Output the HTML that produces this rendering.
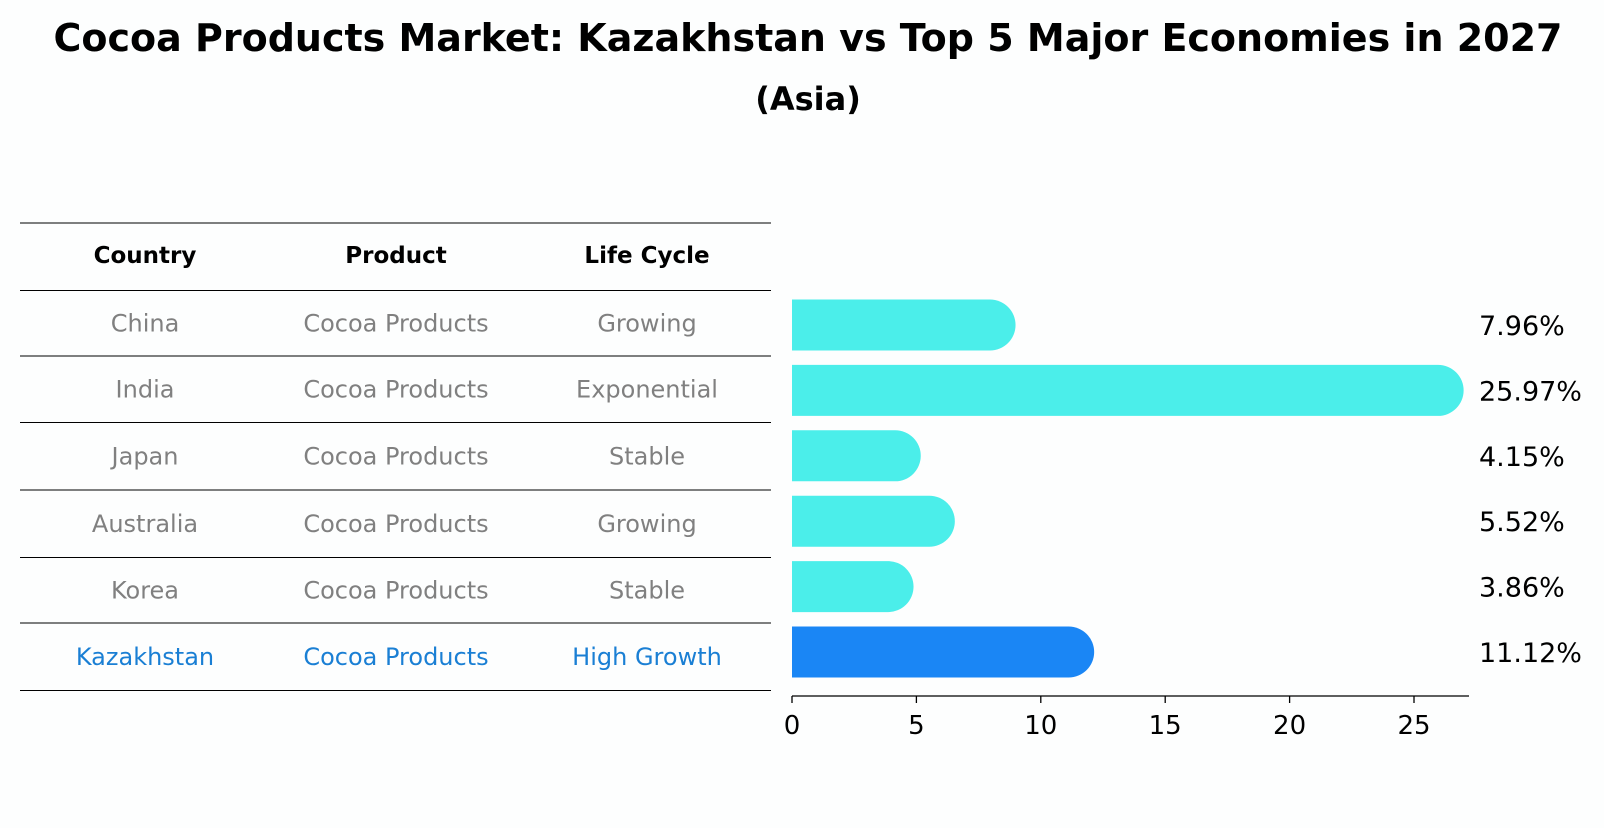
<!DOCTYPE html>
<html><head><meta charset="utf-8"><style>
body{margin:0;background:#fdfefe;font-family:"Liberation Sans","DejaVu Sans",sans-serif;}
svg text{font-family:"DejaVu Sans","Liberation Sans",sans-serif;}
</style></head><body>
<svg width="1604" height="823" viewBox="0 0 1604 823" xmlns="http://www.w3.org/2000/svg">
<rect width="1604" height="823" fill="#fdfefe"/>
<text x="808" y="51" text-anchor="middle" font-size="38" font-weight="bold">Cocoa Products Market: Kazakhstan vs Top 5 Major Economies in 2027</text>
<text x="808" y="110" text-anchor="middle" font-size="32" font-weight="bold">(Asia)</text>
<g id="table"></g>
<g id="bars"></g>
</svg>
<script>
const countries=["China","India","Japan","Australia","Korea","Kazakhstan"];
const products=["Cocoa Products","Cocoa Products","Cocoa Products","Cocoa Products","Cocoa Products","Cocoa Products"];
const lifeCycles=["Growing","Exponential","Stable","Growing","Stable","High Growth"];
const values=[7.96,25.97,4.15,5.52,3.86,11.12];
const ticks=[0,5,10,15,20,25];
const NS="http://www.w3.org/2000/svg";
function mk(tag,attrs,parent,text){const e=document.createElementNS(NS,tag);for(const k in attrs)e.setAttribute(k,attrs[k]);if(text!==undefined)e.textContent=text;parent.appendChild(e);return e;}
const tbl=document.getElementById('table');
const lineYs=[223,290.5,356,422.5,490,557.5,623,690.5];
const colX=[145,396,647];
lineYs.forEach((y,i)=>{const l=mk('line',{x1:20,x2:771,y1:y,y2:y,stroke:'#000','stroke-width':1},tbl);

});
["Country","Product","Life Cycle"].forEach((h,i)=>{const t=mk('text',{x:colX[i],y:(lineYs[0]+lineYs[1])/2+6,'text-anchor':'middle','font-size':23,'font-weight':'bold'},tbl,h);

});
countries.forEach((c,r)=>{const y=(lineYs[r+1]+lineYs[r+2])/2+8;const col=r===countries.length-1?'#1a7fd4':'#808080';
[c,products[r],lifeCycles[r]].forEach((v,i)=>{const t=mk('text',{x:colX[i],y:y,'text-anchor':'middle','font-size':24,fill:col},tbl,v);

});});
const g=document.getElementById('bars');
const x0=792,ux=24.88,axisY=696,barH=51,rad=25.5;
const xs=v=>x0+v*ux;
const yc=i=>325+i*65.4;
values.forEach((v,i)=>{const c=i===values.length-1?'#1a86f5':'#4beeea';const y=yc(i)-barH/2;const w=xs(v)-x0;
const p=mk('path',{d:`M${x0},${y} H${x0+w} A${rad},${rad} 0 0 1 ${x0+w},${y+barH} H${x0} Z`,fill:c},g);


const t=mk('text',{x:1479,y:yc(i)+10,'font-size':27},g,v.toFixed(2)+'%');

});
const ax=mk('line',{x1:x0,x2:1469,y1:axisY,y2:axisY,stroke:'#000','stroke-width':1.3},g);


ticks.forEach(t=>{const tm=mk('line',{x1:xs(t),x2:xs(t),y1:axisY,y2:axisY+7,stroke:'#000','stroke-width':1.3},g);


const tl=mk('text',{x:xs(t),y:axisY+38,'text-anchor':'middle','font-size':26},g,String(t));

});
</script>
</body></html>
